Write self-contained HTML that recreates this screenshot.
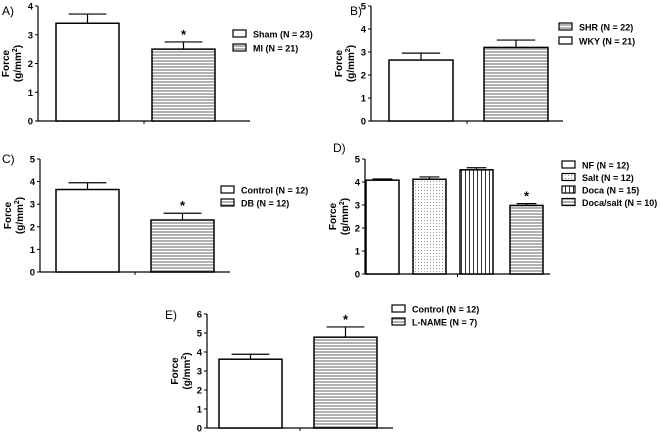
<!DOCTYPE html>
<html><head><meta charset="utf-8">
<style>
html,body{margin:0;padding:0;background:#fff;}
svg{display:block;font-family:"Liberation Sans",Arial,sans-serif;}
</style></head>
<body>
<svg id="fig" width="661" height="432" viewBox="0 0 661 432">
<defs>
<pattern id="hstripe" width="4" height="3" patternUnits="userSpaceOnUse"><rect width="4" height="3" fill="#fff"/><line x1="0" y1="1" x2="4" y2="1" stroke="#666" stroke-width="1"/></pattern>
<pattern id="vstripe" width="4" height="4" patternUnits="userSpaceOnUse"><rect width="4" height="4" fill="#fff"/><line x1="1.5" y1="0" x2="1.5" y2="4" stroke="#333" stroke-width="1"/></pattern>
<pattern id="dots" width="3" height="3" patternUnits="userSpaceOnUse"><rect width="3" height="3" fill="#fff"/><rect x="1" y="1" width="1" height="1" fill="#999"/></pattern>
</defs>
</svg>
<script>
// Panel A
const aLabels=["Sham (N = 23)","MI (N = 21)"];
const aValues=[3.4,2.5];
const aErrors=[0.32,0.25];
// Panel B
const bLabels=["SHR (N = 22)","WKY (N = 21)"];
const bValues=[2.65,3.2];
const bErrors=[0.3,0.32];
// Panel C
const cLabels=["Control (N = 12)","DB (N = 12)"];
const cValues=[3.65,2.3];
const cErrors=[0.3,0.3];
// Panel D
const dLabels=["NF (N = 12)","Salt (N = 12)","Doca (N = 15)","Doca/salt (N = 10)"];
const dValues=[4.08,4.12,4.53,2.98];
const dErrors=[0.05,0.1,0.09,0.08];
// Panel E
const eLabels=["Control (N = 12)","L-NAME (N = 7)"];
const eValues=[3.62,4.78];
const eErrors=[0.26,0.54];

const svg=document.getElementById('fig');
const NS='http://www.w3.org/2000/svg';
function mk(tag,attrs,parent){const e=document.createElementNS(NS,tag);for(const k in attrs)e.setAttribute(k,attrs[k]);(parent||svg).appendChild(e);return e;}

function panel(p){
  const g=mk('g',{});
  
  
  const y=v=>p.y0-(v/p.ymax)*(p.y0-p.yTop);
  const t=mk('text',{x:p.letterX,y:p.letterY,'font-size':12},g);t.textContent=p.id.toUpperCase()+')';
  
  
  const ax=mk('line',{x1:p.ax,y1:p.yTop,x2:p.ax,y2:p.y0,stroke:'#000','stroke-width':1.2},g);
  
  
  const bx=mk('line',{x1:p.ax,y1:p.y0,x2:p.axEnd,y2:p.y0,stroke:'#000','stroke-width':1.2},g);
  
  
  mk('line',{x1:(p.ax+p.axEnd)/2,y1:p.y0,x2:(p.ax+p.axEnd)/2,y2:p.y0+3,stroke:'#000'},g);
  for(let v=0;v<=p.ymax;v++){
    mk('line',{x1:p.ax-3,y1:y(v),x2:p.ax,y2:y(v),stroke:'#000'},g);
    const tl=mk('text',{x:p.ax-5,y:y(v)+3.5,'font-size':9.5,'font-weight':'bold','text-anchor':'end'},g);
    tl.textContent=v;
    
    
  }
  const yt=mk('text',{transform:`translate(${p.ax-27},${(p.y0+p.yTop)/2}) rotate(-90)`,'font-size':10,'font-weight':'bold','text-anchor':'middle'},g);
  
  
  const s1=mk('tspan',{x:0,dy:-2},yt);s1.textContent='Force';
  const s2=mk('tspan',{x:0,dy:12},yt);s2.textContent='(g/mm';
  const s3=mk('tspan',{dy:-4,'font-size':7},yt);s3.textContent='2';
  const s4=mk('tspan',{dy:4},yt);s4.textContent=')';
  p.values.forEach((v,i)=>{
    const x0=p.barX[i],w=p.barW;
    const top=y(v),et=y(v+p.errors[i]);
    mk('line',{x1:x0+w/2,y1:top,x2:x0+w/2,y2:et,stroke:'#000','stroke-width':1.2},g);
    mk('line',{x1:x0+w/2-w*0.3,y1:et,x2:x0+w/2+w*0.3,y2:et,stroke:'#000','stroke-width':1.2},g);
    const r=mk('rect',{x:x0,y:top,width:w,height:p.y0-top,fill:p.fills[i],stroke:'#000','stroke-width':1.5},g);
    
    
    if(p.stars[i]){const st=mk('text',{x:x0+w/2,y:et-3,'font-size':13,'font-weight':'bold','text-anchor':'middle'},g);st.textContent='*';
      
      }
  });
  p.labels.forEach((l,i)=>{
    const ly=p.legY+i*p.legDy;
    const lg=mk('g',{},g);
    
    
    mk('rect',{x:p.legX,y:ly-4,width:13,height:7,fill:p.legFills[i],stroke:'#000','stroke-width':1.2},lg);
    const lt=mk('text',{x:p.legX+20,y:ly+3.5,'font-size':9,'font-weight':'bold'},lg);lt.textContent=l;
  });
}
const W='#fff',H='url(#hstripe)';
panel({id:'a',letterX:2,letterY:15,ax:38,axEnd:250,y0:121,yTop:6,ymax:4,values:aValues,errors:aErrors,labels:aLabels,barX:[56,152],barW:63,fills:[W,H],legFills:[W,H],stars:[0,1],legX:233,legY:34,legDy:14});
panel({id:'b',letterX:350,letterY:15,ax:371,axEnd:563,y0:121,yTop:6,ymax:5,values:bValues,errors:bErrors,labels:bLabels,barX:[389,484],barW:64,fills:[W,H],legFills:[H,W],stars:[0,0],legX:559,legY:27,legDy:14});
panel({id:'c',letterX:2,letterY:163,ax:40,axEnd:230,y0:272,yTop:159,ymax:5,values:cValues,errors:cErrors,labels:cLabels,barX:[56,151],barW:63,fills:[W,H],legFills:[W,H],stars:[0,1],legX:221,legY:190,legDy:13});
panel({id:'d',letterX:333,letterY:152,ax:365,axEnd:550,y0:274,yTop:159,ymax:5,values:dValues,errors:dErrors,labels:dLabels,barX:[366,413,460,510],barW:33,fills:[W,'url(#dots)','url(#vstripe)',H],legFills:[W,'url(#dots)','url(#vstripe)',H],stars:[0,0,0,1],legX:562,legY:165,legDy:12.5});
panel({id:'e',letterX:165,letterY:319,ax:207,axEnd:393,y0:428,yTop:314,ymax:6,values:eValues,errors:eErrors,labels:eLabels,barX:[219,314],barW:63,fills:[W,H],legFills:[W,'url(#hstripe)'],stars:[0,1],legX:392,legY:309,legDy:13});
</script>
</body></html>
